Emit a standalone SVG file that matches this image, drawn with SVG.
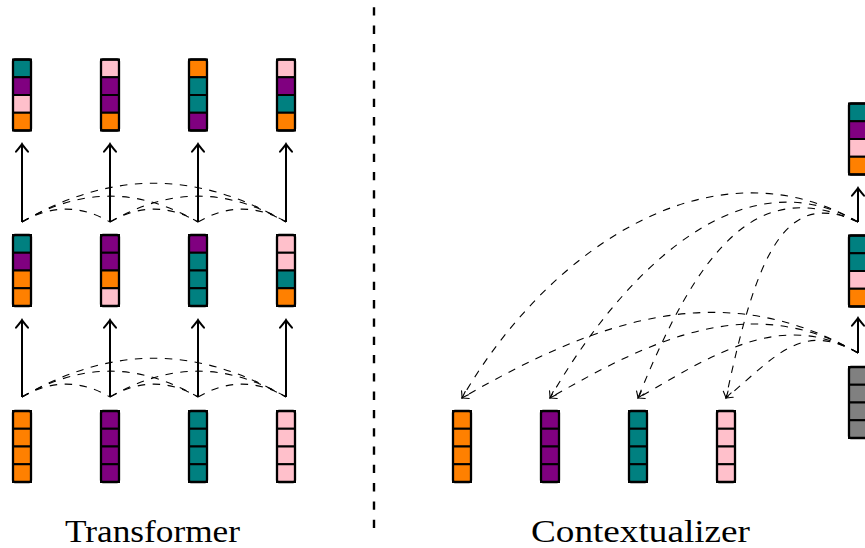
<svg xmlns="http://www.w3.org/2000/svg" width="865" height="548" viewBox="0 0 865 548">
<style>
.o{fill:#ff8000}.p{fill:#800080}.t{fill:#008080}.k{fill:#ffc0cb}.g{fill:#808080}
.vec rect{stroke:#000;stroke-width:2}
.vec .frame{fill:none;stroke:#000;stroke-width:2.3}
.arr{fill:none;stroke:#000;stroke-width:2}
.arc{fill:none;stroke:#000;stroke-width:1.1;stroke-dasharray:7.5 7.5}
.div{fill:none;stroke:#000;stroke-width:2.4;stroke-dasharray:8.3 10}
.lbl{font-family:"Liberation Serif","DejaVu Serif",serif;font-size:31px;fill:#000}
</style>
<defs>
<marker id="ah" markerUnits="userSpaceOnUse" viewBox="-10 -8 12 16" refX="0" refY="0" markerWidth="12" markerHeight="16" orient="auto" overflow="visible">
<path d="M-7.7,-6 Q-2,-1.2 0,0 Q-2,1.2 -7.7,6" fill="none" stroke="#000" stroke-width="2" stroke-linecap="round"/>
</marker>
<marker id="ahs" markerUnits="userSpaceOnUse" viewBox="-8 -6 10 12" refX="0" refY="0" markerWidth="10" markerHeight="12" orient="auto" overflow="visible">
<path d="M-6,-4 Q-1.5,-0.8 0,0 Q-1.5,0.8 -6,4" fill="none" stroke="#000" stroke-width="1.1" stroke-linecap="round"/>
</marker>
</defs>
<rect width="865" height="548" fill="#fff"/>

<!-- Transformer: top row -->
<g id="t_top_1" class="vec"><rect x="13" y="59.5" width="18" height="17.75" class="t"/><rect x="13" y="77.25" width="18" height="17.75" class="p"/><rect x="13" y="95" width="18" height="17.75" class="k"/><rect x="13" y="112.75" width="18" height="17.75" class="o"/><rect class="frame" x="13" y="59.5" width="18" height="71" rx="2"/></g>
<g id="t_top_2" class="vec"><rect x="101" y="59.5" width="18" height="17.75" class="k"/><rect x="101" y="77.25" width="18" height="17.75" class="p"/><rect x="101" y="95" width="18" height="17.75" class="p"/><rect x="101" y="112.75" width="18" height="17.75" class="o"/><rect class="frame" x="101" y="59.5" width="18" height="71" rx="2"/></g>
<g id="t_top_3" class="vec"><rect x="189" y="59.5" width="18" height="17.75" class="o"/><rect x="189" y="77.25" width="18" height="17.75" class="t"/><rect x="189" y="95" width="18" height="17.75" class="t"/><rect x="189" y="112.75" width="18" height="17.75" class="p"/><rect class="frame" x="189" y="59.5" width="18" height="71" rx="2"/></g>
<g id="t_top_4" class="vec"><rect x="277" y="59.5" width="18" height="17.75" class="k"/><rect x="277" y="77.25" width="18" height="17.75" class="p"/><rect x="277" y="95" width="18" height="17.75" class="t"/><rect x="277" y="112.75" width="18" height="17.75" class="o"/><rect class="frame" x="277" y="59.5" width="18" height="71" rx="2"/></g>

<!-- Transformer: middle row -->
<g id="t_mid_1" class="vec"><rect x="13" y="235" width="18" height="17.75" class="t"/><rect x="13" y="252.75" width="18" height="17.75" class="p"/><rect x="13" y="270.5" width="18" height="17.75" class="o"/><rect x="13" y="288.25" width="18" height="17.75" class="o"/><rect class="frame" x="13" y="235" width="18" height="71" rx="2"/></g>
<g id="t_mid_2" class="vec"><rect x="101" y="235" width="18" height="17.75" class="p"/><rect x="101" y="252.75" width="18" height="17.75" class="p"/><rect x="101" y="270.5" width="18" height="17.75" class="o"/><rect x="101" y="288.25" width="18" height="17.75" class="k"/><rect class="frame" x="101" y="235" width="18" height="71" rx="2"/></g>
<g id="t_mid_3" class="vec"><rect x="189" y="235" width="18" height="17.75" class="p"/><rect x="189" y="252.75" width="18" height="17.75" class="t"/><rect x="189" y="270.5" width="18" height="17.75" class="t"/><rect x="189" y="288.25" width="18" height="17.75" class="t"/><rect class="frame" x="189" y="235" width="18" height="71" rx="2"/></g>
<g id="t_mid_4" class="vec"><rect x="277" y="235" width="18" height="17.75" class="k"/><rect x="277" y="252.75" width="18" height="17.75" class="k"/><rect x="277" y="270.5" width="18" height="17.75" class="t"/><rect x="277" y="288.25" width="18" height="17.75" class="o"/><rect class="frame" x="277" y="235" width="18" height="71" rx="2"/></g>

<!-- Transformer: bottom row -->
<g id="t_bot_1" class="vec"><rect x="13" y="411" width="18" height="17.75" class="o"/><rect x="13" y="428.75" width="18" height="17.75" class="o"/><rect x="13" y="446.5" width="18" height="17.75" class="o"/><rect x="13" y="464.25" width="18" height="17.75" class="o"/><rect class="frame" x="13" y="411" width="18" height="71" rx="2"/></g>
<g id="t_bot_2" class="vec"><rect x="101" y="411" width="18" height="17.75" class="p"/><rect x="101" y="428.75" width="18" height="17.75" class="p"/><rect x="101" y="446.5" width="18" height="17.75" class="p"/><rect x="101" y="464.25" width="18" height="17.75" class="p"/><rect class="frame" x="101" y="411" width="18" height="71" rx="2"/></g>
<g id="t_bot_3" class="vec"><rect x="189" y="411" width="18" height="17.75" class="t"/><rect x="189" y="428.75" width="18" height="17.75" class="t"/><rect x="189" y="446.5" width="18" height="17.75" class="t"/><rect x="189" y="464.25" width="18" height="17.75" class="t"/><rect class="frame" x="189" y="411" width="18" height="71" rx="2"/></g>
<g id="t_bot_4" class="vec"><rect x="277" y="411" width="18" height="17.75" class="k"/><rect x="277" y="428.75" width="18" height="17.75" class="k"/><rect x="277" y="446.5" width="18" height="17.75" class="k"/><rect x="277" y="464.25" width="18" height="17.75" class="k"/><rect class="frame" x="277" y="411" width="18" height="71" rx="2"/></g>

<!-- Contextualizer: inputs -->
<g id="c_in_1" class="vec"><rect x="453" y="411" width="18" height="17.75" class="o"/><rect x="453" y="428.75" width="18" height="17.75" class="o"/><rect x="453" y="446.5" width="18" height="17.75" class="o"/><rect x="453" y="464.25" width="18" height="17.75" class="o"/><rect class="frame" x="453" y="411" width="18" height="71" rx="2"/></g>
<g id="c_in_2" class="vec"><rect x="541" y="411" width="18" height="17.75" class="p"/><rect x="541" y="428.75" width="18" height="17.75" class="p"/><rect x="541" y="446.5" width="18" height="17.75" class="p"/><rect x="541" y="464.25" width="18" height="17.75" class="p"/><rect class="frame" x="541" y="411" width="18" height="71" rx="2"/></g>
<g id="c_in_3" class="vec"><rect x="629" y="411" width="18" height="17.75" class="t"/><rect x="629" y="428.75" width="18" height="17.75" class="t"/><rect x="629" y="446.5" width="18" height="17.75" class="t"/><rect x="629" y="464.25" width="18" height="17.75" class="t"/><rect class="frame" x="629" y="411" width="18" height="71" rx="2"/></g>
<g id="c_in_4" class="vec"><rect x="717" y="411" width="18" height="17.75" class="k"/><rect x="717" y="428.75" width="18" height="17.75" class="k"/><rect x="717" y="446.5" width="18" height="17.75" class="k"/><rect x="717" y="464.25" width="18" height="17.75" class="k"/><rect class="frame" x="717" y="411" width="18" height="71" rx="2"/></g>

<!-- Contextualizer: context column -->
<g id="c_ctx_0" class="vec"><rect x="849" y="367" width="18" height="17.75" class="g"/><rect x="849" y="384.75" width="18" height="17.75" class="g"/><rect x="849" y="402.5" width="18" height="17.75" class="g"/><rect x="849" y="420.25" width="18" height="17.75" class="g"/><rect class="frame" x="849" y="367" width="18" height="71" rx="2"/></g>
<g id="c_ctx_1" class="vec"><rect x="849" y="235.5" width="18" height="17.75" class="t"/><rect x="849" y="253.25" width="18" height="17.75" class="t"/><rect x="849" y="271" width="18" height="17.75" class="k"/><rect x="849" y="288.75" width="18" height="17.75" class="o"/><rect class="frame" x="849" y="235.5" width="18" height="71" rx="2"/></g>
<g id="c_ctx_2" class="vec"><rect x="849" y="103.5" width="18" height="17.75" class="t"/><rect x="849" y="121.25" width="18" height="17.75" class="p"/><rect x="849" y="139" width="18" height="17.75" class="k"/><rect x="849" y="156.75" width="18" height="17.75" class="o"/><rect class="frame" x="849" y="103.5" width="18" height="71" rx="2"/></g>

<g id="connectors">
<!-- Transformer vertical arrows -->
<path class="arr" marker-end="url(#ah)" d="M22,397V320"/>
<path class="arr" marker-end="url(#ah)" d="M110,397V320"/>
<path class="arr" marker-end="url(#ah)" d="M198,397V320"/>
<path class="arr" marker-end="url(#ah)" d="M286,397V320"/>
<path class="arr" marker-end="url(#ah)" d="M22,222V144"/>
<path class="arr" marker-end="url(#ah)" d="M110,222V144"/>
<path class="arr" marker-end="url(#ah)" d="M198,222V144"/>
<path class="arr" marker-end="url(#ah)" d="M286,222V144"/>
<!-- Transformer attention arcs, lower -->
<path class="arc" d="M22,397C51.84,379.8 80.16,379.8 110,397"/>
<path class="arc" d="M110,397C139.84,379.8 168.16,379.8 198,397"/>
<path class="arc" d="M198,397C227.84,379.8 256.16,379.8 286,397"/>
<path class="arc" d="M22,397C81.7,362.55 138.3,362.55 198,397"/>
<path class="arc" d="M110,397C169.7,362.55 226.3,362.55 286,397"/>
<path class="arc" d="M22,397C111.5,345.3 196.5,345.3 286,397"/>
<!-- Transformer attention arcs, upper -->
<path class="arc" d="M22,222C51.84,204.8 80.16,204.8 110,222"/>
<path class="arc" d="M110,222C139.84,204.8 168.16,204.8 198,222"/>
<path class="arc" d="M198,222C227.84,204.8 256.16,204.8 286,222"/>
<path class="arc" d="M22,222C81.7,187.55 138.3,187.55 198,222"/>
<path class="arc" d="M110,222C169.7,187.55 226.3,187.55 286,222"/>
<path class="arc" d="M22,222C111.5,170.3 196.5,170.3 286,222"/>
<!-- Contextualizer vertical arrows -->
<path class="arr" marker-end="url(#ah)" d="M858,353V318"/>
<path class="arr" marker-end="url(#ah)" d="M858,222V188"/>
<!-- Contextualizer arcs, upper -->
<path class="arc" marker-end="url(#ahs)" d="M858,222C710.8,137 547,250.8 462,398"/>
<path class="arc" marker-end="url(#ahs)" d="M858,222C737.7,152.6 619.4,277.7 550,398"/>
<path class="arc" marker-end="url(#ahs)" d="M858,222C758.3,175.5 699.8,245 638,398"/>
<path class="arc" marker-end="url(#ahs)" d="M858,222C785.5,188.2 757.2,251.3 726,398"/>
<!-- Contextualizer arcs, lower -->
<path class="arc" marker-end="url(#ahs)" d="M858,353C722.9,275 597.1,320 462,398"/>
<path class="arc" marker-end="url(#ahs)" d="M858,353C752.4,292 655.6,337 550,398"/>
<path class="arc" marker-end="url(#ahs)" d="M858,353C781.9,309 714.1,354 638,398"/>
<path class="arc" marker-end="url(#ahs)" d="M858,353C801.7,320.5 775.8,356.2 726,398"/>
</g>

<path class="div" d="M374,7.3V536"/>

<text class="lbl" x="65" y="542" textLength="175" lengthAdjust="spacingAndGlyphs">Transformer</text>
<text class="lbl" x="531" y="542" textLength="219" lengthAdjust="spacingAndGlyphs">Contextualizer</text>
</svg>
